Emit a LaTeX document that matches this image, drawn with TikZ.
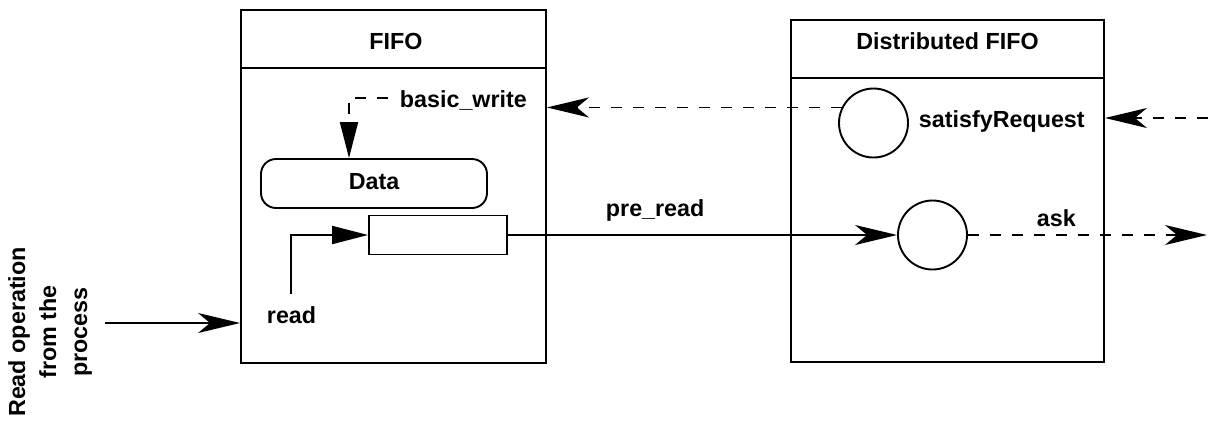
\documentclass[tikz,border=0pt]{standalone}
\usepackage{fontspec}
\setmainfont{Liberation Sans}
\usetikzlibrary{arrows.meta}
\begin{document}
\begin{tikzpicture}[x=1pt,y=-1pt,line width=1.9pt,
  every node/.style={font=\bfseries\fontsize{23.3}{31}\selectfont,inner sep=0pt},
  frame/.style={draw,rectangle},
  stk/.style={-{Stealth[length=42pt,width=20pt,inset=12pt]}},
  tri/.style={-{Triangle[length=36pt,width=18pt]}},
  dsh/.style={dash pattern=on 11pt off 11pt}]
\useasboundingbox (0,0) rectangle (1208,421);

% FIFO component
\node[frame,minimum width=305pt,minimum height=353pt] (fifo) at (393.5,186.5) {};
\node[anchor=base] (fifot) at (396,49) {FIFO};
\draw ([yshift=-59pt]fifo.north west) -- ([yshift=-59pt]fifo.north east);

% Distributed FIFO component
\node[frame,minimum width=313pt,minimum height=342pt] (dfifo) at (947.5,191) {};
\node[anchor=base] (dfifot) at (947.5,49) {Distributed FIFO};
\draw ([yshift=-59pt]dfifo.north west) -- ([yshift=-59pt]dfifo.north east);

% inner elements
\node[draw,rounded corners=15pt,minimum width=226pt,minimum height=49pt,text depth=4pt] (data) at (374,183.5) {Data};
\node[draw,minimum width=138pt,minimum height=39pt] (buf) at (438,235) {};
\node[draw,circle,minimum size=69pt] (sat) at (873.5,123) {};
\node[draw,circle,minimum size=69pt] (askc) at (932.5,235) {};

% labels
\node[anchor=base west] (lbw) at (399,107) {basic\_write};
\node[anchor=base west] (lsat) at (918,127) {satisfyRequest};
\node[anchor=base west] (lask) at (1036,226) {ask};
\node[anchor=base west] (lpre) at (605,216) {pre\_read};
\node[anchor=base west] (lread) at (266,323) {read};
\node[rotate=90,align=center] (lop) at (50,332) {Read operation\\from the\\process};

% free ends
\coordinate (inL) at (105,323);
\coordinate (rd) at (291,294);
\coordinate (bw) at (388,98);
\coordinate (bwx) at (349,98);
\coordinate (satin) at (1208,118);
\coordinate (askout) at (1207,235);

% connectors
\draw[stk] (inL) -- (inL -| fifo.west);
\draw[tri] (rd) |- (buf.west);
\draw[dsh,tri] (bw) -| (bwx |- data.north);
\draw[stk] (buf.east) -- (askc.west);
\draw[dsh,stk] (askc.east) -- (askout);
\draw[dsh,stk] (satin) -- (satin -| dfifo.east);
\draw[dsh,stk] (sat.154) -- (sat.154 -| fifo.east);
\end{tikzpicture}
\end{document}
